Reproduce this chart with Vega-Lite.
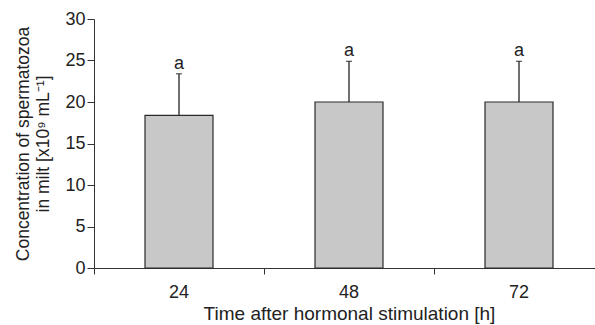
{
  "$schema": "https://vega.github.io/schema/vega-lite/v6.json",
  "autosize": "none",
  "width": 510,
  "height": 249,
  "padding": {"left": 94, "top": 19, "right": 0, "bottom": 57},
  "config": {
    "view": {"stroke": null},
    "font": "Liberation Sans",
    "axis": {"domainColor": "#333", "tickColor": "#333", "labelColor": "#222", "titleColor": "#222", "labelFont": "Liberation Sans", "titleFont": "Liberation Sans", "labelFontSize": 18, "titleFontWeight": "normal", "grid": false}
  },
  "data": {"values": [
    {"time": "24", "mean": 18.4, "upper": 23.4, "label": "a"},
    {"time": "48", "mean": 20.0, "upper": 24.9, "label": "a"},
    {"time": "72", "mean": 20.0, "upper": 24.9, "label": "a"}
  ]},
  "encoding": {
    "x": {"field": "time", "type": "ordinal", "sort": null,
      "scale": {"paddingInner": 0, "paddingOuter": 0},
      "axis": {"title": "Time after hormonal stimulation [h]", "titleFontSize": 19, "labelAngle": 0, "bandPosition": 0, "tickSize": 6, "labelPadding": 9, "titlePadding": 3}}
  },
  "layer": [
    {
      "mark": {"type": "bar", "size": 68, "fill": "#c8c8c8", "stroke": "#2a2a2a", "strokeWidth": 1.2},
      "encoding": {
        "y": {"field": "mean", "type": "quantitative",
          "scale": {"domain": [0, 30], "nice": false},
          "axis": {"values": [0, 5, 10, 15, 20, 25, 30], "tickSize": 7, "labelPadding": 2,
            "title": ["Concentration of spermatozoa", "in milt [x10⁹ mL⁻¹]"], "titleFontSize": 17.5, "titlePadding": 12, "titleLineHeight": 20}}
      }
    },
    {
      "mark": {"type": "rule", "color": "#222", "strokeWidth": 1.3},
      "encoding": {"y": {"field": "mean", "type": "quantitative"}, "y2": {"field": "upper"}}
    },
    {
      "mark": {"type": "tick", "color": "#222", "size": 6, "thickness": 1.3, "orient": "horizontal"},
      "encoding": {"y": {"field": "upper", "type": "quantitative"}}
    },
    {
      "mark": {"type": "text", "fontSize": 18, "color": "#222", "baseline": "bottom", "dy": -1},
      "encoding": {"y": {"field": "upper", "type": "quantitative"}, "text": {"field": "label"}}
    }
  ]
}
